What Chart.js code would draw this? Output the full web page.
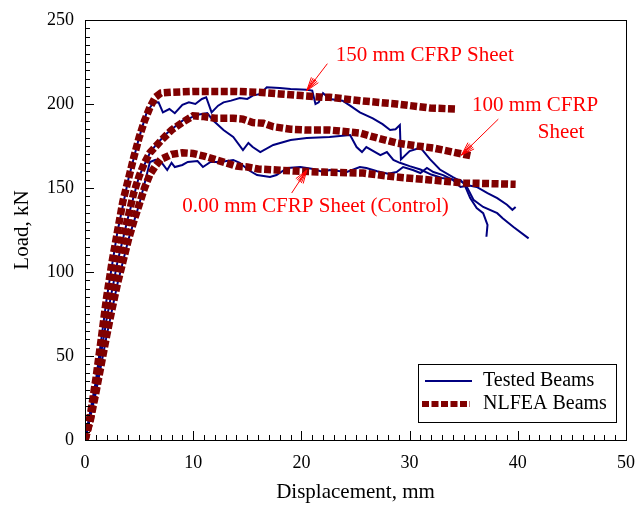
<!DOCTYPE html>
<html>
<head>
<meta charset="utf-8">
<script src="https://cdn.jsdelivr.net/npm/chart.js@4"></script>
<style>
html,body{margin:0;padding:0;background:#fff;}
#c{display:block;}
</style>
</head>
<body>
<canvas id="c" width="638" height="508"></canvas>
<script>
// ---- data (Displacement mm, Load kN) ----
const xTicks = [0, 10, 20, 30, 40, 50];
const yTicks = [0, 50, 100, 150, 200, 250];

const nlfea150X = [0,0.5,1,1.5,2,2.5,3,3.5,4,4.5,5,5.5,6,6.5,7,8,10,12,14,16,18,20,22,22.6,25.7,28.8,31.9,34.3];
const nlfea150Y = [0,15,36,60,85,106,124,142,155,168,180,190,198,204,206.5,207,207.5,207.5,207.5,207,206,205,204,204,201.8,200,197.6,197];

const nlfea100X = [0,0.5,1,1.5,2,2.5,3,3.5,4,4.5,5,5.5,6,7,8,9,10,11,12,13.7,14.6,15.5,16.5,17.4,19,20.5,22.6,24.2,25.4,27,28.8,30.7,32.2,34,35.8];
const nlfea100Y = [0,13,32,52,72,90,106,120,133,147,157,165,171,178,184.5,189,193,192.5,191.5,191.5,191,189,188.5,186.5,185,184.5,184.5,183.5,182.7,179.8,176.8,175,173.8,171.4,169];

const nlfeaCtrlX = [0,0.5,1,1.5,2,2.5,3,3.5,4,4.5,5,5.5,6,6.5,7,8,9,10,11,12,13,14,15,16,17.7,19.4,22,25.7,28.8,31.9,35,39.8];
const nlfeaCtrlY = [0,12,28,45,62,78,93,106,119,130,140,150,158,163,167,170,171,170.5,169,167,165,163,162.5,161.3,160.7,160.1,159.5,158.9,156.5,154.8,153,152.2];

const test150X = [0,1,2,3,4,5,5.7,6.3,6.8,7.2,7.8,8.3,9,9.6,10.2,10.8,11.2,11.7,12.3,12.8,13.5,14.3,15,15.5,16.2,16.8,18,19,20.5,21,21.3,21.6,22,22.6,23.8,24.5,25.4,26.6,27.5,28.2,28.7,29.1,29.2,30,31,31.9,32.8,34,35,35.6,36.2,36.8,37.2,37.1];
const test150Y = [0,35,84,124,155,180,195,200.6,201,195,197,194.5,199.5,201,200,203,204,195,199,201,202,203.5,203,205,206,210,209.5,209,208.5,208,200,201,206.5,203,202,199,195,191.5,188,184.5,185,187.5,167,172,174,167,161,156.5,153,144,138,135,128,121];

const test100X = [0,1,2,3,4,5,6,6.7,7.6,8.5,9.1,9.7,10.3,11.3,11.8,12.8,13.7,14.6,15.1,15.5,16.2,17.4,19,20.5,22.6,24.5,25.1,25.6,26,27.3,27.9,28.5,29.1,30,31,32,33,34,34.7,35.3,35.9,36.8,38.1,38.6,39.6,41];
const test100Y = [0,32,72,106,133,157,171,176.8,182.7,187.5,190.5,191.6,193.5,194.6,190.5,184.5,180.4,172.6,176.8,174.4,171.4,175.6,178.6,179.8,180.4,181.5,174.4,171.4,174.4,169.6,171.4,166.7,165,163,161,158,156,155,154.8,150.6,143,138.7,135,132,126.8,120];

const testCtrlX = [0,1,2,3,4,5,5.6,6,6.5,7.1,7.6,8,8.3,9,9.5,10.4,10.9,11.6,12.5,13.7,14.3,15.1,15.9,17.1,17.7,18.7,19.9,21.1,22,22.6,24.2,25.4,26,27,28,28.8,29.4,30.3,31,31.6,32.2,33.1,34,34.7,35.5,36.2,37.2,38.1,39,39.5,39.8];
const testCtrlY = [0,28,62,93,119,140,155,165.5,166.7,165,160.7,165,162.5,163.7,165.5,166,162.5,165.5,165.5,166.7,165,160.7,157.7,156.5,157.7,161.9,162.5,161.3,159.5,160.7,159.5,162.5,161.9,160,158.5,159.5,162.5,160.7,158.9,161.9,159.5,157.7,154.8,150.6,151.5,150.6,147,144,140,137,138.7];

const legendLabels = ['Tested Beams', 'NLFEA Beams'];
const annotations = [
  {lines:['150 mm CFRP Sheet'], x:31.4, y:229, tail:[22.4,224], tip:[20.5,208]},
  {lines:['100 mm CFRP','Sheet'], x:41.6, y:199.4, x2:44, y2:183.3, tail:[38.2,191], tip:[34.8,169.6]},
  {lines:['0.00 mm CFRP Sheet (Control)'], x:21.3, y:138.7, tail:[19.1,147], tip:[20.5,160.7]}
];

// ---- build ----
const toPts = (xs, ys) => xs.map((v, i) => ({x: v, y: ys[i]}));
const NAVY = '#000080', MAROON = '#800000', RED = '#ff0000';
const FONT = "'Liberation Serif','Times New Roman',serif";

function testDs(xs, ys) {
  return {data: toPts(xs, ys), borderColor: NAVY, borderWidth: 2, pointRadius: 0, tension: 0, fill: false, order: 2};
}
function nlDs(xs, ys) {
  return {data: toPts(xs, ys), borderColor: MAROON, borderWidth: 7.5, borderDash: [7, 2.5], borderCapStyle: 'butt', pointRadius: 0, tension: 0, fill: false, order: 1};
}

const decor = {
  id: 'decor',
  afterDraw(chart) {
    const {ctx, chartArea: ca, scales: {x, y}} = chart;
    ctx.save();
    // frame
    ctx.strokeStyle = '#000'; ctx.lineWidth = 1;
    ctx.strokeRect(Math.round(ca.left) + 0.5, Math.round(ca.top) + 0.5, Math.round(ca.right - ca.left), Math.round(ca.bottom - ca.top));
    // inward ticks
    ctx.beginPath();
    for (let v = 0; v <= 50; v += 1) {
      const px = Math.round(x.getPixelForValue(v)) + 0.5;
      const len = v % 10 === 0 ? 9 : 5;
      ctx.moveTo(px, ca.bottom); ctx.lineTo(px, ca.bottom - len);
    }
    for (let v = 0; v <= 250; v += 5) {
      const py = Math.round(y.getPixelForValue(v)) + 0.5;
      const len = v % 50 === 0 ? 9 : 5;
      ctx.moveTo(ca.left, py); ctx.lineTo(ca.left + len, py);
    }
    ctx.stroke();

    // annotations
    ctx.fillStyle = RED; ctx.strokeStyle = RED; ctx.lineWidth = 1;
    ctx.font = '21px ' + FONT; ctx.textAlign = 'center'; ctx.textBaseline = 'middle';
    annotations.forEach(a => {
      ctx.fillText(a.lines[0], x.getPixelForValue(a.x), y.getPixelForValue(a.y));
      if (a.lines[1]) ctx.fillText(a.lines[1], x.getPixelForValue(a.x2), y.getPixelForValue(a.y2));
      const tx = x.getPixelForValue(a.tail[0]), ty = y.getPixelForValue(a.tail[1]);
      const hx = x.getPixelForValue(a.tip[0]), hy = y.getPixelForValue(a.tip[1]);
      ctx.beginPath(); ctx.moveTo(tx, ty); ctx.lineTo(hx, hy);
      const ang = Math.atan2(ty - hy, tx - hx);
      [-0.32, -0.18, -0.06, 0.06, 0.18, 0.32].forEach(d => {
        ctx.moveTo(hx, hy);
        ctx.lineTo(hx + 14 * Math.cos(ang + d), hy + 14 * Math.sin(ang + d));
      });
      ctx.stroke();
    });

    // legend
    const lx = 418, ly = 364, lw = 198, lh = 58;
    ctx.fillStyle = '#fff'; ctx.fillRect(lx, ly, lw, lh);
    ctx.strokeStyle = '#000'; ctx.lineWidth = 1;
    ctx.strokeRect(lx + 0.5, ly + 0.5, lw, lh);
    ctx.strokeStyle = NAVY; ctx.lineWidth = 2; ctx.setLineDash([]);
    ctx.beginPath(); ctx.moveTo(425, 381); ctx.lineTo(472, 381); ctx.stroke();
    ctx.strokeStyle = MAROON; ctx.lineWidth = 6; ctx.setLineDash([7, 2.5]); ctx.lineCap = 'butt';
    ctx.beginPath(); ctx.moveTo(422, 404); ctx.lineTo(470, 404); ctx.stroke();
    ctx.setLineDash([]);
    ctx.fillStyle = '#000'; ctx.textAlign = 'left'; ctx.font = '20px ' + FONT;
    ctx.fillText(legendLabels[0], 483, 381);
    ctx.fillText(legendLabels[1], 483, 404);
    ctx.restore();
  }
};

new Chart(document.getElementById('c'), {
  type: 'line',
  data: {
    datasets: [
      nlDs(nlfea150X, nlfea150Y), nlDs(nlfea100X, nlfea100Y), nlDs(nlfeaCtrlX, nlfeaCtrlY),
      testDs(test150X, test150Y), testDs(test100X, test100Y), testDs(testCtrlX, testCtrlY)
    ]
  },
  options: {
    responsive: false, animation: false, devicePixelRatio: 1,
    layout: {padding: {left: 0, right: 12, top: 20, bottom: 0}},
    plugins: {legend: {display: false}, tooltip: {enabled: false}},
    scales: {
      x: {
        type: 'linear', min: 0, max: 50,
        afterBuildTicks: s => { s.ticks = xTicks.map(v => ({value: v})); },
        afterFit: s => { s.height = 68; s.paddingLeft = 0; s.paddingRight = 0; },
        grid: {display: false, drawTicks: false},
        border: {display: false},
        ticks: {color: '#000', font: {family: FONT, size: 18}, padding: 12, maxRotation: 0},
        title: {display: true, text: 'Displacement, mm', color: '#000', font: {family: FONT, size: 21}, padding: {top: 0, bottom: 3}}
      },
      y: {
        type: 'linear', min: 0, max: 250,
        afterBuildTicks: s => { s.ticks = yTicks.map(v => ({value: v})); },
        afterFit: s => { s.width = 85; s.paddingTop = 0; s.paddingBottom = 0; },
        grid: {display: false, drawTicks: false},
        border: {display: false},
        ticks: {color: '#000', font: {family: FONT, size: 18}, padding: 11},
        title: {display: true, text: 'Load, kN', color: '#000', font: {family: FONT, size: 21}, padding: {top: 10, bottom: 0}}
      }
    }
  },
  plugins: [decor]
});
</script>
</body>
</html>
